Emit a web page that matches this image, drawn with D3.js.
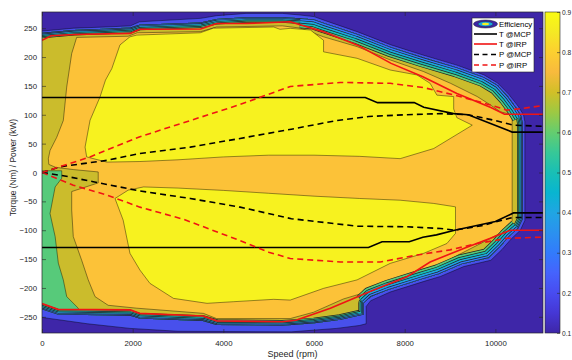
<!DOCTYPE html>
<html><head><meta charset="utf-8">
<script src="https://cdn.jsdelivr.net/npm/d3@7"></script>
<style>body{margin:0;background:#fff;} text{font-family:"Liberation Sans",Arial,Helvetica,sans-serif;}</style>
</head><body><svg id="c" width="572" height="360"></svg>
<script>
// ---------- data ----------
const speedDomain = [0, 11050];
const torqueDomain = [-278, 278];
const speedTicks = [0, 2000, 4000, 6000, 8000, 10000];
const torqueTicks = [-250, -200, -150, -100, -50, 0, 50, 100, 150, 200, 250];
const effTicks = [0.1, 0.2, 0.3, 0.4, 0.5, 0.6, 0.7, 0.8, 0.9];
const effLevels = [0.1, 0.2, 0.3, 0.4, 0.5, 0.6, 0.7, 0.8, 0.9];
const levelColors = ["#3e26a8", "#4850ec", "#327bfc", "#1ca7e0", "#16bdb6", "#57ca7a", "#cbbc2c", "#fcc238", "#f7f21f"];
const parulaStops = ["#3e26a8","#4537d5","#484cf0","#4563fd","#327bfc","#2b91ef","#20a5e3","#08b5d0","#19bfb5","#37c897","#64cd6f","#9dc943","#d1bf27","#f8ba3d","#fccf30","#f5e924","#f9fb14"];
const legendNames = ["Efficiency", "T @MCP", "T @IRP", "P @MCP", "P @IRP"];

// efficiency contour regions [speed rpm, torque Nm]
const eff02Outer = [[-500,245],[0,245],[700,250],[1400,252],[1950,254],[2150,261],[3500,267],[3850,271.6],[4500,275.6],[5300,275.6],[5700,272.7],[6000,270],[6250,263],[6950,244],[7700,221],[8400,203.5],[9150,186],[9750,169],[10050,155],[10300,135],[10500,115],[10620,100],[10650,88],[10650,-83],[10550,-100],[10350,-115],[10150,-133],[9900,-152],[9300,-163],[8790,-180],[8410,-189],[7680,-207],[7250,-222],[7150,-232],[7150,-262],[7000,-265],[6500,-270],[5500,-276],[3000,-275],[1940,-270],[1000,-262],[0,-251],[-500,-251]];
const eff03TopLeft = [[-500,242],[0,242],[700,247],[1400,249],[1950,251],[2150,256],[3500,260],[3850,266],[4500,269],[5300,269],[5700,267]];
const eff03TopRight = [[5700,267],[6000,265],[6250,258],[6950,240],[7700,217],[8400,199.5],[9150,182],[9750,165],[10050,151],[10280,131],[10460,112],[10570,98]];
const eff03Right = [[10570,98],[10600,86],[10600,-81],[10500,-97]];
const eff03BottomRight = [[10500,-97],[10300,-111],[10100,-129],[9850,-148],[9250,-159],[8750,-176],[8370,-185],[7640,-203],[7250,-215],[7100,-226]];
const eff03BottomLeft = [[7100,-226],[7100,-246],[6580,-255],[6000,-261],[5500,-264],[5300,-265],[3850,-264],[3550,-257],[2150,-253],[1950,-248],[350,-246],[0,-237],[-500,-237]];
const eff05Region = [[-500,-185],[0,-185],[287,-198],[560,-232],[560,-300],[-500,-300]];
const eff06Region = [[-500,3],[435,3],[435,-10],[290,-25],[177,-71],[290,-111],[360,-157],[470,-186],[545,-215],[800,-235],[800,-300],[-500,-300]];
const eff08Region = [[765,234],[1900,236],[2100,242],[3500,244],[3850,252],[5300,254],[5700,250],[6210,235],[6950,218],[7680,195],[8410,175],[9010,154.5],[9600,131.5],[9890,117],[10110,105],[10370,100],[10370,-83],[10110,-105],[9600,-126],[9000,-150],[8600,-167],[8010,-182],[7630,-196],[6650,-219],[5990,-242],[5475,-253],[3850,-253],[3560,-244],[2090,-235],[1460,-230],[1170,-215],[1020,-186],[875,-152],[690,-111],[655,-65],[655,-33],[1240,-18],[1240,1],[700,5],[300,9],[150,14],[140,24],[177,38],[325,61],[470,90],[545,148],[655,206]];
const eff09Upper = [[1540,180],[1720,221],[1940,235],[2090,238],[3490,242],[3780,250],[5110,252],[5250,248],[5475,249.7],[5920,246.8],[6210,229],[6210,209],[6950,197.8],[7680,177.5],[8270,169],[8560,154.5],[8710,134],[9080,131.5],[9080,110],[9150,95],[9490,82],[8640,41.5],[7900,24],[7000,28],[6000,30],[5000,30],[4000,27],[3000,22],[2160,19],[1430,18],[985,27],[950,44],[1060,90.5],[1280,131],[1400,160]];
const eff09Lower = [[1900,-30.6],[2240,-25],[3000,-27],[4000,-31],[5000,-36],[6000,-41],[7000,-45],[7900,-48],[8640,-53.6],[9120,-59.5],[9120,-82.5],[9120,-105.5],[8930,-123],[8420,-140],[7680,-157.4],[6950,-186],[6210,-200.7],[5475,-221],[5110,-219.7],[4220,-223.8],[3640,-226.6],[2900,-218],[2380,-192],[2160,-169],[1940,-140],[1790,-82.5],[1610,-45]];

// operating curves
const tMcpUpper = [[0,130],[7130,130],[7400,121],[8210,121],[8420,113],[9080,102],[9400,100],[10370,70],[11050,70]];
const tMcpLower = [[0,-130],[7200,-130],[7500,-120],[8100,-120],[8400,-112],[8700,-108],[9100,-100],[10000,-85],[10400,-70],[11050,-70]];
const tIrpUpper = [[0,229],[200,237],[700,239],[1950,241],[2150,248],[3500,248.5],[3850,258],[4500,258],[5475,261],[6200,244],[6950,221],[7700,189],[8400,166],[9150,137],[9900,112.5],[10200,101],[11050,101]];
const tIrpLower = [[0,-227],[350,-237],[1950,-238],[2150,-244],[3550,-248.6],[3850,-257],[5300,-258.5],[5600,-256],[6360,-235],[7300,-204],[8050,-180.6],[8560,-155],[9300,-131.5],[9890,-114],[10330,-100],[11050,-100]];
const pMcpUpper = [[0,0],[400,10],[1430,21],[2160,33],[3270,44],[4370,59],[5500,75],[6500,90],[7200,97],[8000,100],[8800,102],[9400,100],[10000,90],[10400,82],[11050,80]];
const pMcpLower = [[0,0],[500,-6],[1130,-16],[2160,-32],[3270,-45],[4370,-60],[5500,-80],[6950,-93],[8050,-94],[8790,-97],[9100,-100],[9700,-92],[10370,-78],[11050,-78]];
const pIrpUpper = [[0,0],[1060,27],[2160,62],[3270,90],[4300,116],[5475,149],[6580,156],[7680,154.5],[8420,147],[9150,133],[9890,117],[10250,108],[10600,111],[11050,116]];
const pIrpLower = [[0,0],[690,-22],[1430,-39],[2160,-60],[3120,-81],[4370,-118],[5000,-138],[5475,-149],[6580,-155],[7460,-155],[8270,-143],[9000,-134],[9600,-123],[10260,-114],[11050,-112]];

// ---------- drawing ----------
const svg = d3.select("#c");
svg.append("rect").attr("width",572).attr("height",360).attr("fill","#fff");
const L = 42, R = 543, T = 12, B = 333;
const x = d3.scaleLinear().domain(speedDomain).range([L, R]);
const y = d3.scaleLinear().domain(torqueDomain).range([B, T]);
const col = d3.scaleOrdinal().domain(effLevels).range(levelColors);
const line = d3.line().x(d => x(d[0])).y(d => y(d[1]));
const poly = d => line(d) + "Z";
const eff03Edge = [].concat(eff03TopLeft, eff03TopRight.slice(1), eff03Right.slice(1), eff03BottomRight.slice(1), eff03BottomLeft.slice(1));

const defs = svg.append("defs");
defs.append("clipPath").attr("id","plotClip").append("rect").attr("x",L).attr("y",T).attr("width",R-L).attr("height",B-T);
defs.append("clipPath").attr("id","bandClip").append("path").attr("d", poly(eff03Edge));
const grad = defs.append("linearGradient").attr("id","cb").attr("x1",0).attr("y1",1).attr("x2",0).attr("y2",0);
parulaStops.forEach((c,i)=>grad.append("stop").attr("offset",(i/(parulaStops.length-1))).attr("stop-color",c));

const lineCol = "rgba(0,0,0,0.7)";
const plot = svg.append("g").attr("clip-path","url(#plotClip)");
plot.append("rect").attr("x",L).attr("y",T).attr("width",R-L).attr("height",B-T).attr("fill",col(0.1));
plot.append("path").attr("d",poly(eff02Outer)).attr("fill",col(0.2)).attr("stroke",lineCol).attr("stroke-width",0.6);

const inner = plot.append("g").attr("clip-path","url(#bandClip)");
inner.append("path").attr("d",poly(eff03Edge)).attr("fill",col(0.7));
[[eff05Region,0.5],[eff06Region,0.6]].forEach(([p,l])=>{
  inner.append("path").attr("d",poly(p)).attr("fill",col(l)).attr("stroke",lineCol).attr("stroke-width",0.6);
});
inner.append("path").attr("d",poly(eff08Region)).attr("fill",col(0.8)).attr("stroke",lineCol).attr("stroke-width",0.6);
[eff09Upper, eff09Lower].forEach(p=>{
  inner.append("path").attr("d",poly(p)).attr("fill",col(0.9)).attr("stroke",lineCol).attr("stroke-width",0.6);
});
// thin rim bands (levels 0.3-0.6) following the 0.3 contour
const rims = [
  {d: poly(eff03Edge), b: 1.3},
  {d: line(eff03TopRight), b: 2.4},
  {d: line(eff03BottomRight), b: 2.4}
];
[0.6, 0.5, 0.4, 0.3].forEach((lv, i) => {
  const k = 4 - i;
  rims.forEach(r => inner.append("path").attr("d", r.d).attr("fill","none")
    .attr("stroke","#222").attr("stroke-width", 2*k*r.b + 0.7).attr("stroke-linejoin","round"));
  rims.forEach(r => inner.append("path").attr("d", r.d).attr("fill","none")
    .attr("stroke",col(lv)).attr("stroke-width", 2*k*r.b - 0.7).attr("stroke-linejoin","round"));
});
inner.append("path").attr("d",poly(eff03Edge)).attr("fill","none").attr("stroke","#222").attr("stroke-width",1.2);

// curves
const curves = [
  {d: tMcpUpper, c:"#000", dash:null}, {d: tMcpLower, c:"#000", dash:null},
  {d: tIrpUpper, c:"#f01414", dash:null}, {d: tIrpLower, c:"#f01414", dash:null},
  {d: pMcpUpper, c:"#000", dash:"6,4"}, {d: pMcpLower, c:"#000", dash:"6,4"},
  {d: pIrpUpper, c:"#f01414", dash:"6,4"}, {d: pIrpLower, c:"#f01414", dash:"6,4"}
];
curves.forEach(cv => {
  plot.append("path").attr("d", line(cv.d)).attr("fill","none").attr("stroke",cv.c)
    .attr("stroke-width",1.6).attr("stroke-dasharray",cv.dash);
});

// axes
const axCol = "#262626";
const gx = svg.append("g").attr("transform",`translate(0,${B})`)
  .call(d3.axisBottom(x).tickValues(speedTicks).tickSizeInner(-4).tickSizeOuter(0).tickPadding(7).tickFormat(d3.format("d")));
const gxt = svg.append("g").attr("transform",`translate(0,${T})`)
  .call(d3.axisTop(x).tickValues(speedTicks).tickSizeInner(-4).tickSizeOuter(0).tickFormat(""));
const gy = svg.append("g").attr("transform",`translate(${L},0)`)
  .call(d3.axisLeft(y).tickValues(torqueTicks).tickSizeInner(-4).tickSizeOuter(0).tickPadding(5).tickFormat(d3.format("d")));
const gyr = svg.append("g").attr("transform",`translate(${R},0)`)
  .call(d3.axisRight(y).tickValues(torqueTicks).tickSizeInner(-4).tickSizeOuter(0).tickFormat(""));
[gx,gxt,gy,gyr].forEach(g=>{
  g.select(".domain").remove();
  g.selectAll(".tick line").attr("stroke",axCol).attr("stroke-width",0.6);
  g.selectAll(".tick text").attr("fill",axCol).attr("font-size",7.8).attr("font-family","Liberation Sans, Arial, sans-serif");
});
svg.append("rect").attr("x",L).attr("y",T).attr("width",R-L).attr("height",B-T)
  .attr("fill","none").attr("stroke",axCol).attr("stroke-width",0.7);
svg.append("text").attr("x",(L+R)/2).attr("y",357).attr("text-anchor","middle")
  .attr("font-size",9).attr("fill",axCol).text("Speed (rpm)");
svg.append("text").attr("transform",`translate(16,${(T+B)/2-5}) rotate(-90)`).attr("text-anchor","middle")
  .attr("font-size",8.4).attr("fill",axCol).text("Torque (Nm) / Power (kW)");

// colorbar
const cbX = 545, cbW = 15;
const cy = d3.scaleLinear().domain([0.1,0.9]).range([B, T]);
svg.append("rect").attr("x",cbX).attr("y",T).attr("width",cbW).attr("height",B-T).attr("fill","url(#cb)")
  .attr("stroke",axCol).attr("stroke-width",0.6);
const gc = svg.append("g").attr("transform",`translate(${cbX+cbW},0)`)
  .call(d3.axisRight(cy).tickValues(effTicks).tickSizeInner(-3).tickSizeOuter(0).tickPadding(2).tickFormat(d3.format(".1f")));
gc.select(".domain").remove();
gc.selectAll(".tick line").attr("stroke",axCol).attr("stroke-width",0.6);
gc.selectAll(".tick text").attr("fill",axCol).attr("font-size",6.6);

// legend
const lg = svg.append("g");
lg.append("rect").attr("x",472).attr("y",18).attr("width",62).attr("height",54)
  .attr("fill","#fff").attr("stroke",axCol).attr("stroke-width",0.6);
const rowY = [24, 34, 44, 54.5, 65];
const ic = lg.append("g").attr("transform",`translate(485.5,${rowY[0]})`);
ic.append("ellipse").attr("rx",12).attr("ry",4).attr("fill",col(0.1)).attr("stroke","#222").attr("stroke-width",0.5);
ic.append("ellipse").attr("rx",7.5).attr("ry",2.5).attr("fill",col(0.4)).attr("stroke","#222").attr("stroke-width",0.4);
ic.append("ellipse").attr("rx",3.5).attr("ry",1.2).attr("fill",col(0.9));
const legStyles = [null, {c:"#000",dash:null},{c:"#f01414",dash:null},{c:"#000",dash:"5,3.5"},{c:"#f01414",dash:"5,3.5"}];
legendNames.forEach((n,i)=>{
  if (legStyles[i]) {
    lg.append("line").attr("x1",474).attr("x2",497).attr("y1",rowY[i]).attr("y2",rowY[i])
      .attr("stroke",legStyles[i].c).attr("stroke-width",1.6).attr("stroke-dasharray",legStyles[i].dash);
  }
  lg.append("text").attr("x",499).attr("y",rowY[i]+2.8).attr("font-size",7.8).attr("fill","#000").text(n);
});
</script></body></html>
